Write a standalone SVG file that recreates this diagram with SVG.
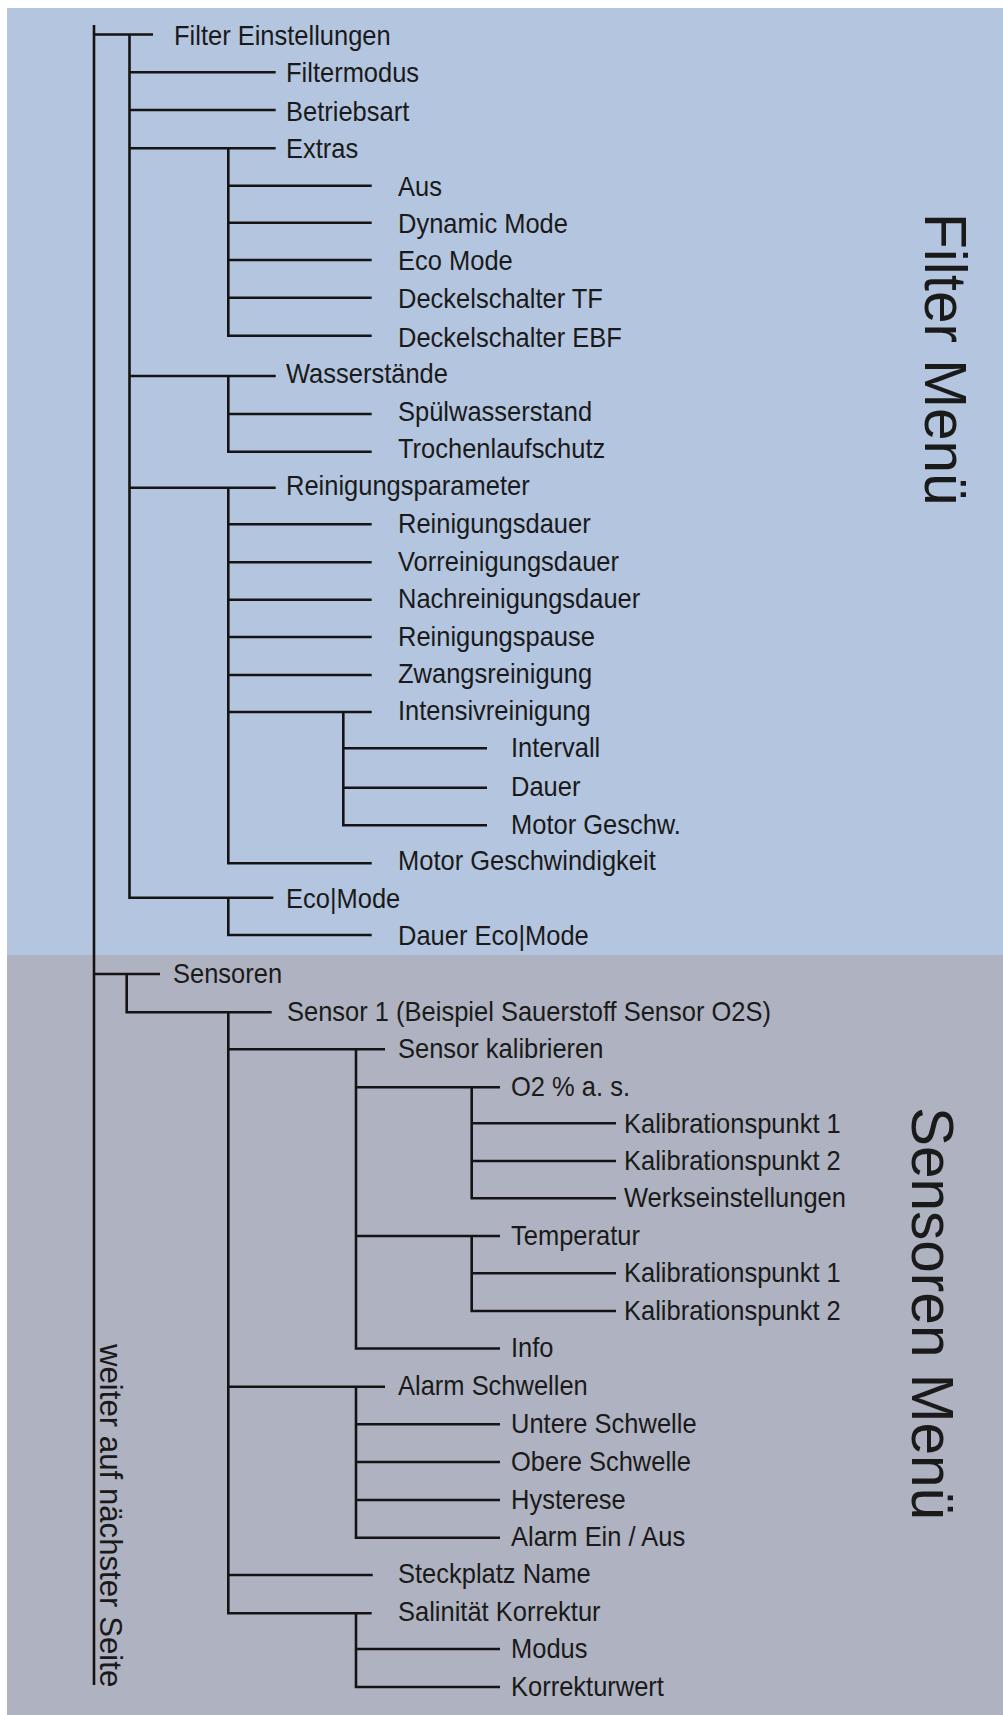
<svg xmlns="http://www.w3.org/2000/svg" width="1003" height="1715" viewBox="0 0 1003 1715">
<style>
.bgf{fill:#B4C5DF}
.bgs{fill:#AFB2C0}
.conn{fill:none;stroke:#141414;stroke-width:2.6;stroke-linejoin:miter}
text{font-family:"Liberation Sans",Arial,sans-serif;font-size:27px;fill:#1a1a1a}
.title{font-size:58.5px}
.note{font-size:31.2px}
</style>
<rect class="bgf" x="7" y="8" width="996" height="947"/>
<rect class="bgs" x="7" y="955" width="996" height="760"/>
<g id="connectors" class="conn">
<path d="M94 25V1685M94 34.5H153"/>
<path d="M129.5 34.5V897.7H273.3M129.5 72.3H275.7M129.5 110H275.7M129.5 148.3H275.7M129.5 376H275.7M129.5 487.7H275.7"/>
<path d="M228.3 148.3V335.7H371.7M228.3 185.7H371.7M228.3 222.7H371.7M228.3 260H371.7M228.3 297.7H371.7"/>
<path d="M228.3 376V451.7H371.7M228.3 414H371.7"/>
<path d="M228.3 487.7V863.3H371.7M228.3 524.3H371.7M228.3 562.3H371.7M228.3 599.7H371.7M228.3 637H371.7M228.3 675H371.7M228.3 712H371.7"/>
<path d="M343.3 712V825.3H487M343.3 748.3H487M343.3 787.7H487"/>
<path d="M228.3 897.7V935H371.7"/>
<path d="M94 974H160M126.7 974V1012.3H271.7"/>
<path d="M228.3 1012.3V1613.3H371.7M228.3 1049.3H385M228.3 1386.7H385M228.3 1575H372.7"/>
<path d="M356 1049.3V1348.5H500M356 1087.3H500M356 1236H500"/>
<path d="M471.7 1087.3V1198.3H616M471.7 1123.3H616M471.7 1161H616"/>
<path d="M471.7 1236V1311H616M471.7 1273.3H616"/>
<path d="M356 1386.7V1537.7H500M356 1424.3H500M356 1462H500M356 1500H500"/>
<path d="M356 1613.3V1687H500M356 1649H500"/>
</g>
<g id="title-filter"><text class="title" transform="translate(925 213) rotate(90)">Filter Menü</text></g>
<g id="title-sensoren"><text class="title" transform="translate(912 1107) rotate(90)">Sensoren Menü</text></g>
<g id="note-weiter"><text class="note" transform="translate(100 1344) rotate(90)">weiter auf nächster Seite</text></g>
<g id="n-filter-einstellungen" transform="translate(174 45) scale(0.944 1)"><text>Filter Einstellungen</text></g>
<g id="n-filtermodus" transform="translate(286 81.5) scale(0.944 1)"><text>Filtermodus</text></g>
<g id="n-betriebsart" transform="translate(286 120.5) scale(0.944 1)"><text>Betriebsart</text></g>
<g id="n-extras" transform="translate(286 158.3) scale(0.944 1)"><text>Extras</text></g>
<g id="n-aus" transform="translate(398 196) scale(0.944 1)"><text>Aus</text></g>
<g id="n-dynamic-mode" transform="translate(398 233.3) scale(0.944 1)"><text>Dynamic Mode</text></g>
<g id="n-eco-mode" transform="translate(398 270.3) scale(0.944 1)"><text>Eco Mode</text></g>
<g id="n-deckel-tf" transform="translate(398 308.3) scale(0.944 1)"><text>Deckelschalter TF</text></g>
<g id="n-deckel-ebf" transform="translate(398 346.5) scale(0.944 1)"><text>Deckelschalter EBF</text></g>
<g id="n-wasserstaende" transform="translate(286 383.3) scale(0.944 1)"><text>Wasserstände</text></g>
<g id="n-spuelwasserstand" transform="translate(398 420.8) scale(0.944 1)"><text>Spülwasserstand</text></g>
<g id="n-trochenlaufschutz" transform="translate(398 458.3) scale(0.944 1)"><text>Trochenlaufschutz</text></g>
<g id="n-reinigungsparameter" transform="translate(286 495) scale(0.944 1)"><text>Reinigungsparameter</text></g>
<g id="n-reinigungsdauer" transform="translate(398 533.3) scale(0.944 1)"><text>Reinigungsdauer</text></g>
<g id="n-vorreinigungsdauer" transform="translate(398 570.8) scale(0.944 1)"><text>Vorreinigungsdauer</text></g>
<g id="n-nachreinigungsdauer" transform="translate(398 608.3) scale(0.944 1)"><text>Nachreinigungsdauer</text></g>
<g id="n-reinigungspause" transform="translate(398 645.7) scale(0.944 1)"><text>Reinigungspause</text></g>
<g id="n-zwangsreinigung" transform="translate(398 683.3) scale(0.944 1)"><text>Zwangsreinigung</text></g>
<g id="n-intensivreinigung" transform="translate(398 720.3) scale(0.944 1)"><text>Intensivreinigung</text></g>
<g id="n-intervall" transform="translate(511 757) scale(0.944 1)"><text>Intervall</text></g>
<g id="n-dauer" transform="translate(511 796) scale(0.944 1)"><text>Dauer</text></g>
<g id="n-motor-geschw" transform="translate(511 833.5) scale(0.944 1)"><text>Motor Geschw.</text></g>
<g id="n-motor-geschwindigkeit" transform="translate(398 870.3) scale(0.944 1)"><text>Motor Geschwindigkeit</text></g>
<g id="n-ecomode" transform="translate(286 907.5) scale(0.944 1)"><text>Eco|Mode</text></g>
<g id="n-dauer-ecomode" transform="translate(398 945) scale(0.944 1)"><text>Dauer Eco|Mode</text></g>
<g id="n-sensoren" transform="translate(173 983.3) scale(0.944 1)"><text>Sensoren</text></g>
<g id="n-sensor1" transform="translate(287 1020.8) scale(0.944 1)"><text>Sensor 1 (Beispiel Sauerstoff Sensor O2S)</text></g>
<g id="n-sensor-kalibrieren" transform="translate(398 1058.3) scale(0.944 1)"><text>Sensor kalibrieren</text></g>
<g id="n-o2" transform="translate(511 1095.7) scale(0.944 1)"><text>O2 % a. s.</text></g>
<g id="n-kal1-o2" transform="translate(624 1132.7) scale(0.944 1)"><text>Kalibrationspunkt 1</text></g>
<g id="n-kal2-o2" transform="translate(624 1170) scale(0.944 1)"><text>Kalibrationspunkt 2</text></g>
<g id="n-werkseinstellungen" transform="translate(624 1207.3) scale(0.944 1)"><text>Werkseinstellungen</text></g>
<g id="n-temperatur" transform="translate(511 1245) scale(0.944 1)"><text>Temperatur</text></g>
<g id="n-kal1-temp" transform="translate(624 1282.3) scale(0.944 1)"><text>Kalibrationspunkt 1</text></g>
<g id="n-kal2-temp" transform="translate(624 1319.5) scale(0.944 1)"><text>Kalibrationspunkt 2</text></g>
<g id="n-info" transform="translate(511 1357) scale(0.944 1)"><text>Info</text></g>
<g id="n-alarm-schwellen" transform="translate(398 1395) scale(0.944 1)"><text>Alarm Schwellen</text></g>
<g id="n-untere-schwelle" transform="translate(511 1433) scale(0.944 1)"><text>Untere Schwelle</text></g>
<g id="n-obere-schwelle" transform="translate(511 1470.7) scale(0.944 1)"><text>Obere Schwelle</text></g>
<g id="n-hysterese" transform="translate(511 1508.7) scale(0.944 1)"><text>Hysterese</text></g>
<g id="n-alarm-ein-aus" transform="translate(511 1546.3) scale(0.944 1)"><text>Alarm Ein / Aus</text></g>
<g id="n-steckplatz-name" transform="translate(398 1583.3) scale(0.944 1)"><text>Steckplatz Name</text></g>
<g id="n-salinitaet" transform="translate(398 1620.5) scale(0.944 1)"><text>Salinität Korrektur</text></g>
<g id="n-modus" transform="translate(511 1657.5) scale(0.944 1)"><text>Modus</text></g>
<g id="n-korrekturwert" transform="translate(511 1696) scale(0.944 1)"><text>Korrekturwert</text></g>
</svg>
